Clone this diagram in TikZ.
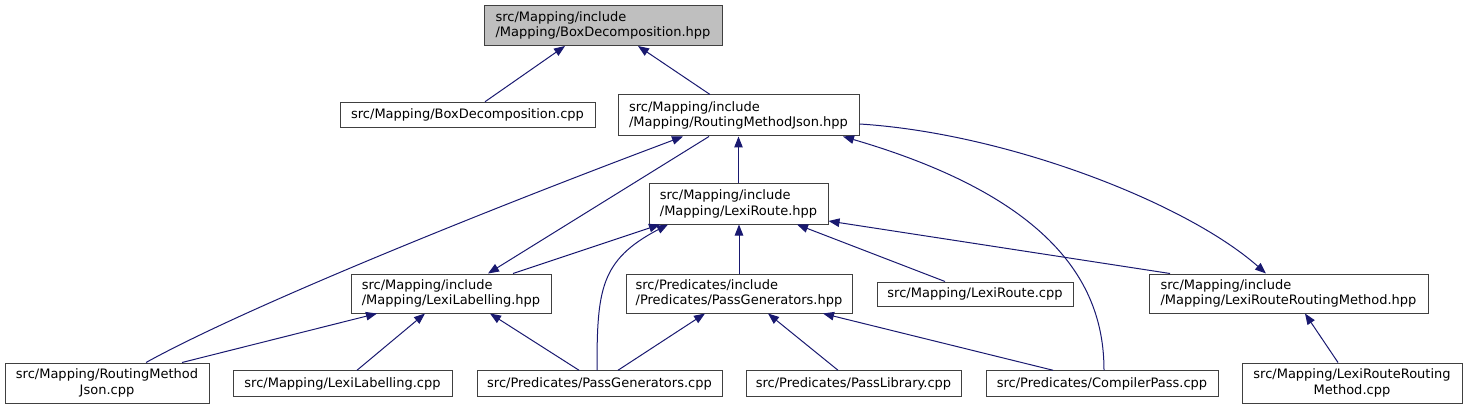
\documentclass[tikz,border=0pt]{standalone}
\usepackage{fontspec}
\setmainfont{DejaVu Sans}
\usetikzlibrary{arrows.meta}
\definecolor{edgeblue}{HTML}{191970}
\definecolor{boxline}{HTML}{404040}
\definecolor{rootfill}{HTML}{BFBFBF}

\begin{document}
\begin{tikzpicture}[x=1pt, y=-1pt,
    file/.style={draw=boxline, line width=1pt, rectangle, inner sep=0pt, font=\fontsize{13}{15.5}\selectfont},
    one/.style={file, minimum height=25.5pt},
    two/.style={file, minimum height=40pt, align=left},
    dep/.style={draw=edgeblue, line width=1pt, -{Triangle[length=11pt, width=8.5pt]}}]
    \useasboundingbox (0,0) rectangle (1468,409);

    % headers
    \node[two, fill=rootfill, minimum width=238pt] (boxh) at (603,25.5) {src/Mapping/include\\/Mapping/BoxDecomposition.hpp};
    \node[one, minimum width=255pt] (boxcpp) at (467.5,115) {src/Mapping/BoxDecomposition.cpp};
    \node[two, minimum width=241pt, minimum height=41pt] (rmjh) at (738.5,115.5) {src/Mapping/include\\/Mapping/RoutingMethodJson.hpp};
    \node[two, minimum width=179pt] (lrh) at (738.5,204) {src/Mapping/include\\/Mapping/LexiRoute.hpp};
    \node[two, minimum width=200pt, minimum height=39pt] (llh) at (451,293.5) {src/Mapping/include\\/Mapping/LexiLabelling.hpp};
    \node[two, minimum width=226pt, minimum height=39pt] (pgh) at (739,293.5) {src/Predicates/include\\/Predicates/PassGenerators.hpp};
    \node[one, minimum width=196pt, minimum height=24pt] (lrcpp) at (975,294) {src/Mapping/LexiRoute.cpp};
    \node[two, minimum width=279pt, minimum height=39pt] (lrrmh) at (1288.5,293.5) {src/Mapping/include\\/Mapping/LexiRouteRoutingMethod.hpp};

    % sources
    \node[two, align=center, minimum width=204pt] (rmjcpp) at (107,383) {src/Mapping/RoutingMethod\\Json.cpp};
    \node[one, minimum width=219pt] (llcpp) at (342.5,383.5) {src/Mapping/LexiLabelling.cpp};
    \node[one, minimum width=245pt] (pgcpp) at (599.5,383.5) {src/Predicates/PassGenerators.cpp};
    \node[one, minimum width=215pt] (plcpp) at (853.5,383.5) {src/Predicates/PassLibrary.cpp};
    \node[one, minimum width=232pt] (cpcpp) at (1102,383.5) {src/Predicates/CompilerPass.cpp};
    \node[two, align=center, minimum width=220pt] (lrrmcpp) at (1352,383) {src/Mapping/LexiRouteRouting\\Method.cpp};

    % into BoxDecomposition.hpp
    \draw[dep] ([xshift=17.5pt]boxcpp.north) -- ([xshift=-38pt]boxh.south);
    \draw[dep] ([xshift=-28.5pt]rmjh.north) -- ([xshift=35pt]boxh.south);

    % into RoutingMethodJson.hpp
    \draw[dep] (lrh.north) -- (lrh.north |- rmjh.south);
    \draw[dep] ([xshift=39pt]rmjcpp.north) .. controls (250,305) and (500,205) .. ([xshift=-55.5pt]rmjh.south);
    \draw[dep] ([xshift=2pt]cpcpp.north) .. controls (1104,290) and (1060,200) .. ([xshift=104.5pt]rmjh.south);
    % out of RoutingMethodJson.hpp
    \draw[dep] ([xshift=-29.5pt]rmjh.south) -- ([xshift=37pt]llh.north);
    \draw[dep] ([yshift=-8.5pt]rmjh.east) .. controls (1005,133) and (1185,202) .. ([xshift=-22.5pt]lrrmh.north);

    % into LexiRoute.hpp
    \draw[dep] ([xshift=62pt]llh.north) -- ([xshift=-78.5pt]lrh.south);
    \draw[dep] ([xshift=-2.5pt]pgcpp.north) .. controls (597,290) and (600,260) .. ([xshift=-70.5pt]lrh.south);
    \draw[dep] (pgh.north) -- (pgh.north |- lrh.south);
    \draw[dep] ([xshift=-30pt]lrcpp.north) -- ([xshift=58.5pt]lrh.south);
    \draw[dep] ([xshift=-118.5pt]lrrmh.north) -- ([yshift=-17pt]lrh.east);

    % into LexiLabelling.hpp
    \draw[dep] ([xshift=75pt]rmjcpp.north) -- ([xshift=-74pt]llh.south);
    \draw[dep] ([xshift=14.5pt]llcpp.north) -- ([xshift=-26pt]llh.south);
    \draw[dep] ([xshift=-20.5pt]pgcpp.north) -- ([xshift=39pt]llh.south);

    % into PassGenerators.hpp
    \draw[dep] ([xshift=18.5pt]pgcpp.north) -- ([xshift=-34pt]pgh.south);
    \draw[dep] ([xshift=-15.5pt]plcpp.north) -- ([xshift=29pt]pgh.south);
    \draw[dep] ([xshift=-49pt]cpcpp.north) -- ([xshift=84pt]pgh.south);

    % into LexiRouteRoutingMethod.hpp
    \draw[dep] ([xshift=-14pt]lrrmcpp.north) -- ([xshift=16.5pt]lrrmh.south);
\end{tikzpicture}
\end{document}
